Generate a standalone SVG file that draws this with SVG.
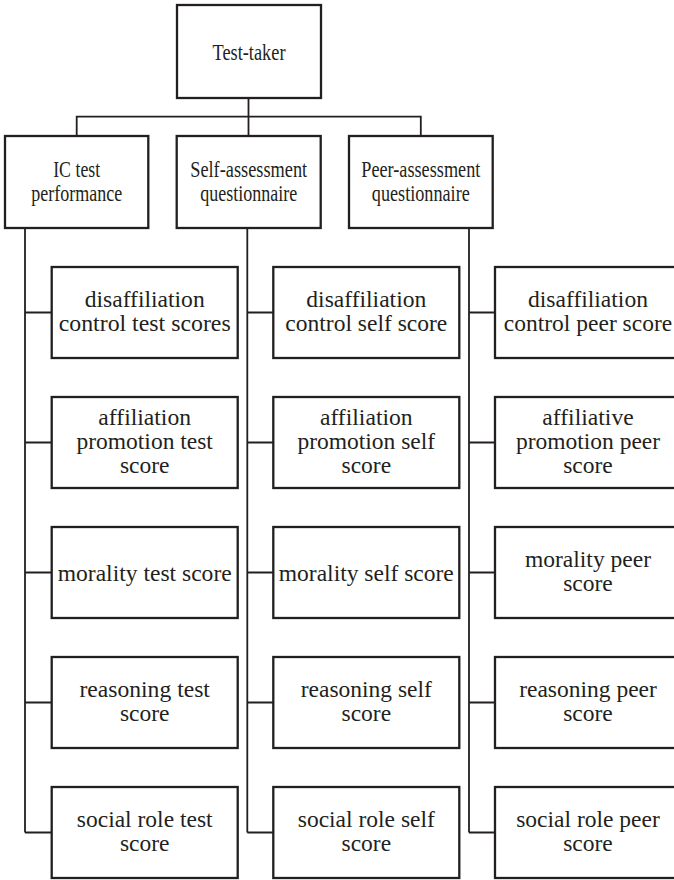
<svg xmlns="http://www.w3.org/2000/svg" width="674" height="880" viewBox="0 0 674 880">
  <style>
    .box { fill: #ffffff; stroke: #231f20; stroke-width: 2.3; }
    .wire { fill: none; stroke: #231f20; stroke-width: 1.8; }
    text { font-family: 'Liberation Serif', Tinos, 'Times New Roman', 'DejaVu Serif', serif; fill: #231f20; text-anchor: middle; }
    .hd { font-size: 23px; }
    .lf { font-size: 23.5px; }
  </style>

  <!-- connectors -->
  <g id="connectors">
    <path class="wire" d="M248.5 98 V136 M76.7 136 V116.7 H420.8 V136"/>
    <path class="wire" d="M25 228 V832.5 M25 312.5 H51.7 M25 442.5 H51.7 M25 572.5 H51.7 M25 702.5 H51.7 M25 832.5 H51.7"/>
    <path class="wire" d="M247.3 228 V832.5 M247.3 312.5 H273.3 M247.3 442.5 H273.3 M247.3 572.5 H273.3 M247.3 702.5 H273.3 M247.3 832.5 H273.3"/>
    <path class="wire" d="M469 228 V832.5 M469 312.5 H495 M469 442.5 H495 M469 572.5 H495 M469 702.5 H495 M469 832.5 H495"/>
  </g>

  <g font-family="'Liberation Serif', Tinos, 'Times New Roman', 'DejaVu Serif', serif" lengthAdjust="spacingAndGlyphs">
  <!-- root -->
  <g id="test-taker">
    <rect class="box" x="177" y="5" width="144" height="93"/>
    <text class="hd" x="249" y="60" textLength="73" lengthAdjust="spacingAndGlyphs">Test-taker</text>
  </g>

  <!-- sources -->
  <g id="ic-test">
    <rect class="box" x="5" y="136" width="143.3" height="92"/>
    <text class="hd" x="76.7" y="176.5" textLength="47" lengthAdjust="spacingAndGlyphs">IC test</text>
    <text class="hd" x="76.7" y="200.5" textLength="91" lengthAdjust="spacingAndGlyphs">performance</text>
  </g>
  <g id="self-assessment">
    <rect class="box" x="176.7" y="136" width="144" height="92"/>
    <text class="hd" x="248.7" y="176.5" textLength="117" lengthAdjust="spacingAndGlyphs">Self-assessment</text>
    <text class="hd" x="248.7" y="200.5" textLength="97" lengthAdjust="spacingAndGlyphs">questionnaire</text>
  </g>
  <g id="peer-assessment">
    <rect class="box" x="349" y="136" width="143.7" height="92"/>
    <text class="hd" x="420.8" y="176.5" textLength="119" lengthAdjust="spacingAndGlyphs">Peer-assessment</text>
    <text class="hd" x="420.8" y="200.5" textLength="98" lengthAdjust="spacingAndGlyphs">questionnaire</text>
  </g>

  <!-- IC test scores -->
  <g id="dc-test">
    <rect class="box" x="51.7" y="267" width="186" height="91"/>
    <text class="lf" x="144.7" y="307" textLength="120" lengthAdjust="spacingAndGlyphs">disaffiliation</text>
    <text class="lf" x="144.7" y="331" textLength="172" lengthAdjust="spacingAndGlyphs">control test scores</text>
  </g>
  <g id="ap-test">
    <rect class="box" x="51.7" y="397" width="186" height="91"/>
    <text class="lf" x="144.7" y="425" textLength="92.7" lengthAdjust="spacingAndGlyphs">affiliation</text>
    <text class="lf" x="144.7" y="449" textLength="136.4" lengthAdjust="spacingAndGlyphs">promotion test</text>
    <text class="lf" x="144.7" y="473" textLength="49.6" lengthAdjust="spacingAndGlyphs">score</text>
  </g>
  <g id="mo-test">
    <rect class="box" x="51.7" y="527" width="186" height="91"/>
    <text class="lf" x="144.7" y="580.5" textLength="174" lengthAdjust="spacingAndGlyphs">morality test score</text>
  </g>
  <g id="re-test">
    <rect class="box" x="51.7" y="657" width="186" height="91"/>
    <text class="lf" x="144.7" y="697" textLength="130.5" lengthAdjust="spacingAndGlyphs">reasoning test</text>
    <text class="lf" x="144.7" y="721" textLength="49.6" lengthAdjust="spacingAndGlyphs">score</text>
  </g>
  <g id="sr-test">
    <rect class="box" x="51.7" y="787" width="186" height="91"/>
    <text class="lf" x="144.7" y="827" textLength="135.8" lengthAdjust="spacingAndGlyphs">social role test</text>
    <text class="lf" x="144.7" y="851" textLength="49.6" lengthAdjust="spacingAndGlyphs">score</text>
  </g>

  <!-- self scores -->
  <g id="dc-self">
    <rect class="box" x="273.3" y="267" width="186" height="91"/>
    <text class="lf" x="366.3" y="307" textLength="120" lengthAdjust="spacingAndGlyphs">disaffiliation</text>
    <text class="lf" x="366.3" y="331" textLength="162" lengthAdjust="spacingAndGlyphs">control self score</text>
  </g>
  <g id="ap-self">
    <rect class="box" x="273.3" y="397" width="186" height="91"/>
    <text class="lf" x="366.3" y="425" textLength="92.7" lengthAdjust="spacingAndGlyphs">affiliation</text>
    <text class="lf" x="366.3" y="449" textLength="137.7" lengthAdjust="spacingAndGlyphs">promotion self</text>
    <text class="lf" x="366.3" y="473" textLength="49.6" lengthAdjust="spacingAndGlyphs">score</text>
  </g>
  <g id="mo-self">
    <rect class="box" x="273.3" y="527" width="186" height="91"/>
    <text class="lf" x="366.3" y="580.5" textLength="175" lengthAdjust="spacingAndGlyphs">morality self score</text>
  </g>
  <g id="re-self">
    <rect class="box" x="273.3" y="657" width="186" height="91"/>
    <text class="lf" x="366.3" y="697" textLength="131.2" lengthAdjust="spacingAndGlyphs">reasoning self</text>
    <text class="lf" x="366.3" y="721" textLength="49.6" lengthAdjust="spacingAndGlyphs">score</text>
  </g>
  <g id="sr-self">
    <rect class="box" x="273.3" y="787" width="186" height="91"/>
    <text class="lf" x="366.3" y="827" textLength="137.1" lengthAdjust="spacingAndGlyphs">social role self</text>
    <text class="lf" x="366.3" y="851" textLength="49.6" lengthAdjust="spacingAndGlyphs">score</text>
  </g>

  <!-- peer scores -->
  <g id="dc-peer">
    <rect class="box" x="495" y="267" width="186" height="91"/>
    <text class="lf" x="588" y="307" textLength="120" lengthAdjust="spacingAndGlyphs">disaffiliation</text>
    <text class="lf" x="588" y="331" textLength="168.4" lengthAdjust="spacingAndGlyphs">control peer score</text>
  </g>
  <g id="ap-peer">
    <rect class="box" x="495" y="397" width="186" height="91"/>
    <text class="lf" x="588" y="425" textLength="91.4" lengthAdjust="spacingAndGlyphs">affiliative</text>
    <text class="lf" x="588" y="449" textLength="144.2" lengthAdjust="spacingAndGlyphs">promotion peer</text>
    <text class="lf" x="588" y="473" textLength="49.6" lengthAdjust="spacingAndGlyphs">score</text>
  </g>
  <g id="mo-peer">
    <rect class="box" x="495" y="527" width="186" height="91"/>
    <text class="lf" x="588" y="567" textLength="126" lengthAdjust="spacingAndGlyphs">morality peer</text>
    <text class="lf" x="588" y="591" textLength="49.6" lengthAdjust="spacingAndGlyphs">score</text>
  </g>
  <g id="re-peer">
    <rect class="box" x="495" y="657" width="186" height="91"/>
    <text class="lf" x="588" y="697" textLength="137.7" lengthAdjust="spacingAndGlyphs">reasoning peer</text>
    <text class="lf" x="588" y="721" textLength="49.6" lengthAdjust="spacingAndGlyphs">score</text>
  </g>
  <g id="sr-peer">
    <rect class="box" x="495" y="787" width="186" height="91"/>
    <text class="lf" x="588" y="827" textLength="143.6" lengthAdjust="spacingAndGlyphs">social role peer</text>
    <text class="lf" x="588" y="851" textLength="49.6" lengthAdjust="spacingAndGlyphs">score</text>
  </g>
  </g>
</svg>
